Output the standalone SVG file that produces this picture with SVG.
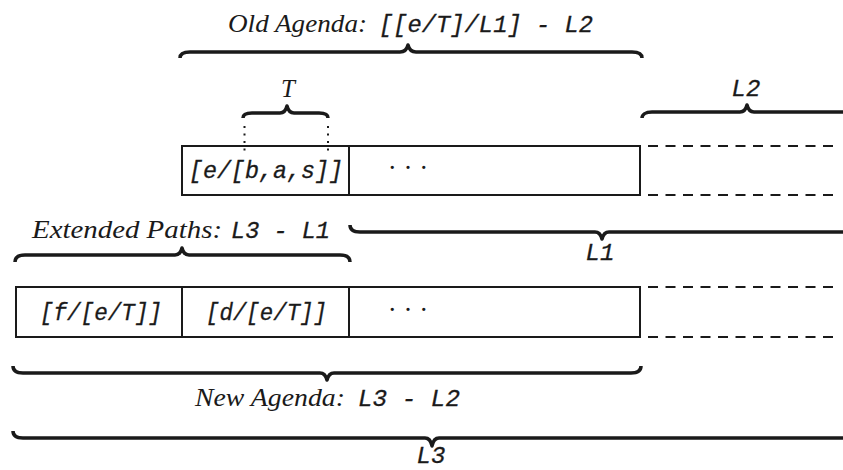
<svg xmlns="http://www.w3.org/2000/svg" width="843" height="470" viewBox="0 0 843 470">
<style>
  .box { fill: none; stroke: #1a1a1a; stroke-width: 2; }
  .dash { stroke: #1a1a1a; stroke-width: 2; stroke-dasharray: 10 7.5; fill: none; }
  .dot { stroke: #1a1a1a; stroke-width: 2; stroke-dasharray: 2 5.5; fill: none; }
  .brace { fill: none; stroke: #1a1a1a; stroke-width: 3.5; stroke-linecap: butt; stroke-linejoin: round; }
  .ser { font-family: "Liberation Serif", "Times New Roman", serif; font-style: italic; font-size: 25px; fill: #1a1a1a; }
  .mono { font-family: "Liberation Mono", "Courier New", monospace; font-style: italic; font-size: 23px; fill: #1a1a1a; stroke: #1a1a1a; stroke-width: 0.3; }
  .lab { font-size: 24px; }
  .cd { font-family: "Liberation Serif", serif; font-size: 27px; fill: #1a1a1a; }
</style>
<rect width="843" height="470" fill="#ffffff"/>

<g id="row1">
  <g id="cell-e-bas">
    <rect class="box" x="182" y="146" width="167" height="49"/>
    <text class="mono" x="189" y="178" textLength="154" lengthAdjust="spacingAndGlyphs">[e/[b,a,s]]</text>
  </g>
  <g id="cell-rest1">
    <rect class="box" x="349" y="146" width="291" height="49"/>
    <text class="cd" x="408" y="177" text-anchor="middle">· · ·</text>
  </g>
  <g id="tail1">
    <line class="dash" x1="648" y1="146" x2="838" y2="146"/>
    <line class="dash" x1="648" y1="195" x2="838" y2="195"/>
  </g>
</g>

<g id="row2">
  <g id="cell-f">
    <rect class="box" x="16" y="287" width="166" height="50"/>
    <text class="mono" x="40" y="320" textLength="122" lengthAdjust="spacingAndGlyphs">[f/[e/T]]</text>
  </g>
  <g id="cell-d">
    <rect class="box" x="182" y="287" width="167" height="50"/>
    <text class="mono" x="206" y="320" textLength="121" lengthAdjust="spacingAndGlyphs">[d/[e/T]]</text>
  </g>
  <g id="cell-rest2">
    <rect class="box" x="349" y="287" width="291" height="50"/>
    <text class="cd" x="408" y="319" text-anchor="middle">· · ·</text>
  </g>
  <g id="tail2">
    <line class="dash" x1="648" y1="287" x2="838" y2="287"/>
    <line class="dash" x1="648" y1="337" x2="838" y2="337"/>
  </g>
</g>

<g id="connectors">
  <line class="dot" x1="244.5" y1="126" x2="244.5" y2="156"/>
  <line class="dot" x1="328" y1="126" x2="328" y2="156"/>
  <path id="brace-old" class="brace" d="M180 58 C180 54 183 52 190 52 L400 52 C405 52 407 49 408 45 C409 49 411 52 416 52 L632 52 C639 52 642 54 642 58"/>
  <path id="brace-T" class="brace" d="M243 118 C243 115 246 113 252 113 L280 113 C284 113 286 110 287 106 C288 110 290 113 294 113 L319 113 C325 113 328 115 328 118"/>
  <path id="brace-L2" class="brace" d="M642 118 C642 115 645 112 652 112 L740 112 C744 112 746 109 747 105 C748 109 750 112 754 112 L843 112"/>
  <path id="brace-L1" class="brace" d="M350 225 C350 229 353 232 360 232 L595 232 C599 232 601 235 602 239 C603 235 605 232 609 232 L843 232"/>
  <path id="brace-ext" class="brace" d="M15 262 C15 258 18 255 25 255 L175 255 C179 255 181 252 182 248 C183 252 185 255 189 255 L340 255 C347 255 350 258 350 262"/>
  <path id="brace-new" class="brace" d="M13 366 C13 370 16 373 23 373 L320 373 C324 373 326 376 327 380 C328 376 330 373 334 373 L631 373 C638 373 641 370 641 366"/>
  <path id="brace-L3" class="brace" d="M13 431 C13 435 16 438 23 438 L425 438 C429 438 431 441 432 446 C433 441 435 438 439 438 L843 438"/>
</g>

<g id="labels">
  <text class="ser" x="228" y="32" textLength="139" lengthAdjust="spacingAndGlyphs">Old Agenda:</text>
  <text class="mono" x="379" y="32" textLength="214" lengthAdjust="spacingAndGlyphs">[[e/T]/L1] - L2</text>
  <text class="ser" x="288" y="97" text-anchor="middle">T</text>
  <text class="mono lab" x="746" y="96" text-anchor="middle">L2</text>
  <text class="ser" x="32" y="238" textLength="190" lengthAdjust="spacingAndGlyphs">Extended Paths:</text>
  <text class="mono" x="231" y="238" textLength="99" lengthAdjust="spacingAndGlyphs">L3 - L1</text>
  <text class="mono lab" x="600" y="260" text-anchor="middle">L1</text>
  <text class="ser" x="195" y="406" textLength="150" lengthAdjust="spacingAndGlyphs">New Agenda:</text>
  <text class="mono" x="358" y="406" textLength="102" lengthAdjust="spacingAndGlyphs">L3 - L2</text>
  <text class="mono lab" x="431" y="463" text-anchor="middle">L3</text>
</g>
</svg>
